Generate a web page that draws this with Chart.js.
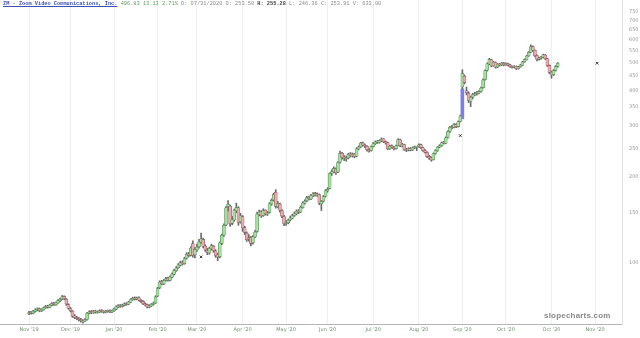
<!DOCTYPE html>
<html>
<head>
<meta charset="utf-8">
<script src="https://cdn.jsdelivr.net/npm/chart.js@4.4.1/dist/chart.umd.min.js"></script>
<style>
  html, body { margin: 0; padding: 0; background: #fff; }
  #wrap { position: relative; width: 640px; height: 338px; overflow: hidden; }
  #hdr {
    position: absolute; left: 3px; top: 1px;
    font: 5.3px "Liberation Mono", "DejaVu Sans Mono", monospace;
    color: #8c8c8c; white-space: pre;
  }
  #hdr .sym { color: #3f4fb4; font-weight: bold; text-decoration: underline; }
  #hdr .chg { color: #5f9f5f; }
  #hdr b { color: #444; }
  #mark {
    position: absolute; left: 544px; top: 311px;
    font: bold 8px "Liberation Sans", Arial, sans-serif;
    color: #8a8a8a; letter-spacing: 0.2px;
  }
</style>
</head>
<body>
<div id="wrap">
  <canvas id="chart" width="640" height="338"></canvas>
  <div id="hdr"><span class="sym">ZM - Zoom Video Communications, Inc.</span> <span class="chg">496.83 13.13 2.71%</span> D: 07/31/2020 O: 253.50 <b>H: 255.28</b> L: 246.36 C: 253.91 V: 633.00</div>
  <div id="mark">slopecharts.com</div>
</div>
<script>
// daily candles, Nov 1 2019 .. Nov 5 2020 (one entry per trading day)
const opens = [
  66.5, 67.4, 66.9, 67.8, 68.9, 69.3, 68.0, 68.7, 69.9, 70.8, 70.0, 71.2, 72.4, 71.5, 72.6, 73.8, 74.9, 76.5, 74.8, 71.6,
  69.4, 67.9, 65.5, 64.4, 63.9, 63.3, 62.2, 62.8, 63.6, 66.9, 67.8, 67.0, 68.0, 67.2, 67.5, 68.3, 67.7, 67.3, 67.8, 68.3, 67.6,
  68.1, 69.1, 70.2, 71.3, 70.5, 71.2, 72.3, 71.8, 73.0, 74.5, 75.6, 74.7, 75.8, 74.1, 73.5, 72.0, 71.6, 70.1, 70.8, 71.7, 72.6,
  76.8, 82.0, 86.2, 84.4, 87.1, 88.5, 87.0, 89.2, 91.4, 94.0, 96.3, 98.2, 100.6, 99.5, 103.9, 107.6, 106.5, 116.9, 106.8,
  111.2, 113.9, 118.0, 120.8, 114.6, 110.5, 108.4, 112.0, 114.3, 110.1, 106.8, 105.3, 117.1, 125.3, 135.6, 157.3, 158.0, 137.5, 141.2, 152.0, 155.8, 139.2,
  145.1, 132.8, 127.1, 121.0, 122.8, 117.6, 123.2, 128.9, 147.6, 150.8, 146.5, 152.6, 148.2, 150.1, 160.4, 165.8, 176.5, 157.2, 160.7, 152.3, 145.2,
  137.3, 138.0, 141.2, 143.2, 146.5, 148.3, 151.9, 150.6, 156.0, 161.5, 164.8, 169.6, 167.2, 171.5, 174.8, 172.3, 173.2, 160.8, 164.3, 170.9,
  178.2, 182.0, 205.6, 207.9, 213.0, 207.4, 224.6, 241.5, 233.9, 230.8, 232.6, 239.8, 236.1, 239.9, 235.6, 249.7, 254.2, 262.1, 257.8, 255.2, 248.4, 246.8,
  254.9, 260.5, 264.8, 263.1, 266.4, 270.8, 264.7, 262.8, 250.1, 255.9, 253.2, 250.4, 256.8, 268.7, 255.6, 258.7, 248.5, 247.4, 250.8, 247.6, 252.4, 253.5,
  254.6, 258.5, 252.0, 246.7, 242.6, 235.3, 232.5, 229.1, 240.8, 246.2, 253.6, 256.0, 263.1, 261.4, 273.8, 287.4, 298.3, 296.9, 303.9, 298.7, 311.2,
  410.5, 447.2, 398.4, 390.6, 365.4, 378.8, 386.0, 389.9, 391.5, 396.2, 408.5, 436.0, 469.8, 493.2, 510.6, 487.0, 499.4, 482.4, 493.1, 490.2, 497.1,
  490.8, 495.6, 490.2, 482.7, 480.9, 484.8, 475.2, 482.6, 489.0, 502.2, 511.0, 526.9, 542.4, 567.5, 550.8, 528.1, 512.3, 516.8, 521.0, 530.8, 514.6, 488.2,
  462.5, 453.1, 469.2, 484.6
];
const highs = [
  67.8, 67.9, 68.4, 69.2, 69.8, 69.7, 69.4, 70.3, 71.2, 71.3, 71.9, 72.8, 72.9, 73.3, 74.5, 75.4, 77.1, 76.9, 75.2, 72.1,
  70.0, 68.3, 66.1, 65.2, 64.6, 64.1, 63.5, 64.0, 67.3, 68.2, 68.3, 68.4, 68.5, 68.1, 68.7, 68.8, 68.2, 68.4, 68.6, 68.7, 68.5,
  69.7, 70.9, 71.6, 71.7, 71.9, 72.6, 72.8, 73.6, 75.1, 76.0, 76.2, 76.1, 76.3, 74.6, 73.9, 72.6, 72.0, 71.5, 72.3, 73.1, 76.9,
  82.3, 86.7, 87.0, 87.6, 89.1, 89.3, 90.2, 92.5, 95.1, 97.2, 99.6, 101.5, 101.8, 104.8, 108.6, 108.9, 113.9, 119.5, 113.2,
  116.4, 121.0, 127.2, 122.1, 115.8, 112.4, 113.6, 116.3, 115.1, 111.3, 108.2, 118.4, 126.2, 137.0, 157.2, 164.9, 159.1, 145.2, 154.3, 161.7, 157.0, 148.9,
  146.3, 134.2, 128.3, 125.6, 123.9, 124.7, 130.1, 150.4, 152.9, 152.3, 154.6, 153.4, 151.3, 162.4, 167.3, 175.2, 180.2, 163.8, 161.9, 153.6, 146.5,
  140.6, 142.3, 145.8, 148.0, 150.6, 153.2, 153.5, 158.1, 163.5, 166.1, 170.9, 171.2, 173.4, 176.0, 176.3, 175.6, 174.1, 165.2, 172.0, 180.3,
  183.1, 206.2, 211.2, 216.4, 214.6, 225.7, 245.3, 243.2, 236.8, 236.1, 241.3, 242.7, 241.8, 241.1, 252.3, 256.1, 263.4, 264.0, 259.9, 256.3, 250.6, 256.2,
  262.8, 266.3, 267.2, 268.5, 272.9, 271.6, 266.2, 263.9, 257.3, 258.2, 255.0, 257.8, 271.2, 270.1, 261.3, 259.5, 250.9, 252.2, 252.6, 253.8, 255.6, 255.28,
  260.4, 259.7, 253.4, 248.2, 244.0, 237.4, 234.2, 241.8, 248.3, 254.7, 258.4, 264.1, 265.5, 275.2, 288.6, 299.6, 302.1, 305.8, 306.3, 312.8, 327.4,
  471.4, 452.6, 410.5, 395.1, 381.9, 390.2, 393.7, 396.4, 399.2, 410.1, 438.2, 471.5, 498.1, 516.8, 513.4, 504.2, 502.1, 495.8, 496.5, 500.4, 499.6,
  498.3, 497.4, 492.6, 486.3, 487.5, 486.2, 485.1, 492.8, 504.6, 514.9, 529.4, 545.6, 576.0, 571.2, 553.1, 531.5, 521.4, 525.3, 534.6, 533.2, 516.3, 490.5,
  466.8, 472.4, 487.9, 499.7
];
const lows = [
  66.0, 66.3, 66.5, 67.4, 68.1, 67.6, 67.7, 68.4, 69.4, 69.6, 69.8, 70.9, 71.1, 71.2, 72.3, 73.4, 74.5, 74.4, 71.2, 69.0,
  67.5, 64.6, 64.0, 63.4, 62.8, 62.2, 61.7, 62.4, 63.2, 66.4, 66.6, 66.7, 66.9, 66.8, 67.1, 67.3, 66.9, 67.0, 67.4, 67.2, 67.1,
  67.8, 68.8, 69.9, 70.1, 70.2, 70.9, 71.2, 71.5, 72.7, 74.1, 74.3, 74.4, 73.8, 72.9, 71.6, 70.9, 69.7, 69.8, 70.5, 71.3, 72.2,
  76.3, 81.4, 83.9, 84.0, 86.5, 86.4, 86.6, 88.8, 90.9, 93.5, 95.8, 97.6, 98.3, 99.0, 103.2, 105.0, 105.8, 104.8, 104.1,
  109.8, 112.6, 116.9, 112.9, 109.7, 106.9, 107.2, 110.8, 108.9, 104.6, 101.9, 104.2, 115.8, 123.9, 134.8, 151.5, 134.2, 135.9, 139.8, 149.6, 135.3, 137.6,
  128.9, 125.6, 118.9, 119.2, 114.8, 116.4, 122.5, 128.0, 145.8, 144.1, 145.3, 146.8, 146.4, 149.2, 158.9, 164.1, 155.3, 155.6, 150.4, 143.9, 134.8,
  135.1, 136.9, 140.1, 142.4, 145.2, 147.1, 148.6, 149.8, 155.2, 160.3, 163.6, 165.8, 166.3, 170.2, 171.1, 170.8, 159.6, 152.4, 163.1, 169.7,
  176.4, 181.3, 201.8, 206.1, 203.5, 206.3, 222.8, 230.1, 227.4, 226.2, 230.5, 234.2, 233.9, 232.6, 234.4, 247.9, 252.6, 255.1, 252.4, 245.1, 243.2, 245.5,
  253.6, 258.7, 260.9, 261.4, 264.8, 262.5, 259.4, 248.1, 248.6, 251.4, 247.6, 249.3, 255.9, 254.2, 253.8, 246.6, 244.3, 245.8, 245.9, 246.4, 250.1, 246.36,
  253.2, 250.6, 244.9, 241.3, 232.9, 229.6, 226.3, 228.2, 239.1, 244.8, 251.9, 254.8, 259.6, 260.2, 272.5, 285.1, 293.2, 295.4, 296.1, 297.5, 310.1,
  404.0, 420.3, 385.2, 362.4, 350.6, 373.1, 382.5, 384.8, 388.3, 393.6, 406.4, 433.2, 466.2, 490.5, 482.1, 484.6, 477.5, 479.2, 485.6, 487.3, 486.2,
  487.9, 486.1, 480.4, 477.2, 478.6, 472.3, 473.6, 480.9, 487.2, 500.1, 509.3, 524.7, 540.1, 546.3, 522.6, 506.4, 508.7, 513.2, 518.5, 511.6, 483.9, 456.7,
  440.2, 449.6, 466.5, 481.2
];
const closes = [
  67.2, 66.8, 67.9, 68.6, 69.1, 68.2, 68.9, 69.8, 70.5, 70.1, 71.4, 72.2, 71.6, 72.8, 73.9, 74.8, 76.3, 75.1, 71.9, 69.6,
  68.1, 65.2, 64.6, 64.0, 63.5, 63.0, 62.6, 63.4, 66.8, 67.5, 67.1, 67.9, 67.3, 67.6, 68.2, 67.8, 67.4, 67.9, 68.1, 67.7, 68.0,
  69.2, 70.4, 71.1, 70.6, 71.3, 72.0, 71.7, 73.1, 74.6, 75.3, 74.8, 75.6, 74.2, 73.4, 72.1, 71.5, 70.2, 70.9, 71.8, 72.4, 76.2,
  81.5, 85.8, 84.6, 86.9, 88.2, 87.1, 89.4, 91.6, 94.2, 96.1, 98.5, 100.3, 99.2, 103.6, 107.4, 106.1, 112.8, 106.2, 111.5,
  113.6, 118.4, 121.5, 114.2, 111.0, 108.7, 112.3, 114.9, 110.6, 106.2, 104.8, 117.6, 124.9, 135.2, 155.8, 160.4, 136.9, 141.8, 152.6, 156.2, 138.5, 146.0,
  132.4, 127.9, 120.6, 122.3, 117.1, 123.5, 128.2, 148.3, 150.6, 146.2, 152.1, 148.4, 149.5, 160.8, 165.2, 173.4, 157.6, 161.2, 152.8, 145.7, 136.9,
  138.2, 140.9, 143.5, 146.1, 148.7, 151.4, 150.2, 156.3, 161.8, 164.2, 169.1, 167.5, 171.8, 174.3, 172.6, 173.9, 161.5, 163.9, 170.4, 178.6,
  180.5, 204.9, 208.3, 213.6, 206.2, 223.9, 240.9, 233.4, 231.7, 232.3, 239.1, 236.6, 239.4, 235.2, 250.0, 253.8, 261.7, 257.3, 255.6, 247.9, 246.5, 254.5,
  260.2, 264.1, 263.6, 266.8, 270.2, 264.3, 262.1, 250.3, 255.4, 253.7, 250.1, 256.2, 269.3, 256.0, 259.1, 248.2, 247.1, 250.5, 247.3, 252.1, 253.0, 253.91,
  258.1, 252.4, 246.3, 243.0, 234.8, 232.1, 228.6, 240.2, 246.5, 253.1, 256.2, 262.4, 261.7, 273.1, 286.9, 297.2, 296.5, 303.4, 298.2, 310.6, 325.1,
  457.7, 425.4, 392.1, 368.3, 378.2, 386.5, 389.4, 391.2, 395.8, 407.3, 434.6, 468.1, 494.3, 512.4, 486.2, 500.5, 481.3, 492.6, 489.4, 497.8, 490.1,
  495.2, 489.6, 483.1, 480.4, 484.2, 474.9, 482.3, 489.5, 501.7, 511.6, 526.3, 541.8, 566.9, 551.4, 527.3, 511.8, 517.2, 521.6, 531.4, 515.2, 487.6, 461.8,
  452.3, 468.7, 483.7, 496.83
];

// month ticks: trading-day index of the first session of each month
const tickDays   = [0, 20, 41, 62, 81, 103, 124, 144, 166, 188, 209, 230, 252, 273];
const tickLabels = ["Nov '19", "Dec '19", "Jan '20", "Feb '20", "Mar '20", "Apr '20", "May '20",
                    "Jun '20", "Jul '20", "Aug '20", "Sep '20", "Oct '20", "Oct '20", "Nov '20"];
const yTicks = [100, 150, 200, 250, 300, 350, 400, 450, 500, 550, 600, 650, 700, 750];

// earnings gap bar (Sep 1) and small event markers
const gapDay = 209;
const gapRange = [318, 404];
const markDays = [83, 208, 274];
const markValues = [105, 278, 496.83];

const LEAD = 14;     // empty sessions before the first candle
const SLOTS = 301;   // sessions across the whole x axis
const UP_FILL = '#a3e09e', UP_LINE = '#5b8a5b';
const DN_FILL = '#ecaab0', DN_LINE = '#8d5a5f';

const labels = new Array(SLOTS).fill('');
tickDays.forEach((d, j) => { labels[d + LEAD] = tickLabels[j]; });

const empty = () => new Array(SLOTS).fill(null);
const bodyData = empty(), wickData = empty(), gapData = empty(), markData = empty();
closes.forEach((c, i) => {
  bodyData[i + LEAD] = [opens[i], c];
  wickData[i + LEAD] = [lows[i], highs[i]];
});
gapData[gapDay + LEAD] = gapRange;
markDays.forEach((d, j) => { markData[d + LEAD] = markValues[j]; });

const isUp = ctx => {
  const i = ctx.dataIndex - LEAD;
  return closes[i] >= opens[i];
};

new Chart(document.getElementById('chart'), {
  type: 'bar',
  data: {
    labels: labels,
    datasets: [
      {
        data: gapData, grouped: false, order: 4,
        barThickness: 3, backgroundColor: '#7d7fe8', borderWidth: 0
      },
      {
        data: wickData, grouped: false, order: 3,
        barThickness: 1, backgroundColor: '#6a6a6a', borderWidth: 0
      },
      {
        data: bodyData, grouped: false, order: 2,
        barThickness: 3, minBarLength: 1,
        backgroundColor: ctx => isUp(ctx) ? UP_FILL : DN_FILL,
        borderColor: ctx => isUp(ctx) ? UP_LINE : DN_LINE,
        borderWidth: 0.6, borderSkipped: false
      },
      {
        type: 'line', data: markData, order: 1, showLine: false,
        pointStyle: 'crossRot', pointRadius: 1.8, borderColor: '#333', borderWidth: 1
      }
    ]
  },
  options: {
    responsive: false,
    maintainAspectRatio: false,
    devicePixelRatio: 1,
    animation: false,
    layout: { padding: 0, autoPadding: false },
    plugins: { legend: { display: false }, tooltip: { enabled: false } },
    scales: {
      x: {
        type: 'category', offset: false,
        afterBuildTicks: s => { s.ticks = tickDays.map(d => ({ value: d + LEAD })); },
        afterFit: s => { s.height = 14; s.paddingLeft = 0; s.paddingRight = 0; },
        grid: { color: '#efefef', drawTicks: false, offset: false },
        border: { color: '#b4b4b4' },
        ticks: {
          autoSkip: false, maxRotation: 0, padding: 3,
          font: { size: 5, family: 'DejaVu Sans' }, color: '#6f8f6f'
        }
      },
      y: {
        type: 'logarithmic', position: 'right', min: 61.3, max: 825, bounds: 'data',
        afterBuildTicks: s => { s.ticks = yTicks.map(v => ({ value: v })); },
        afterFit: s => { s.width = 18; s.paddingTop = 0; s.paddingBottom = 0; },
        grid: { display: false, drawTicks: false },
        border: { display: true, color: '#e2e2e2' },
        ticks: {
          autoSkip: false, padding: 7,
          font: { size: 5, family: 'DejaVu Sans' }, color: '#9a9a9a',
          callback: v => String(v)
        }
      }
    }
  }
});
</script>
</body>
</html>
